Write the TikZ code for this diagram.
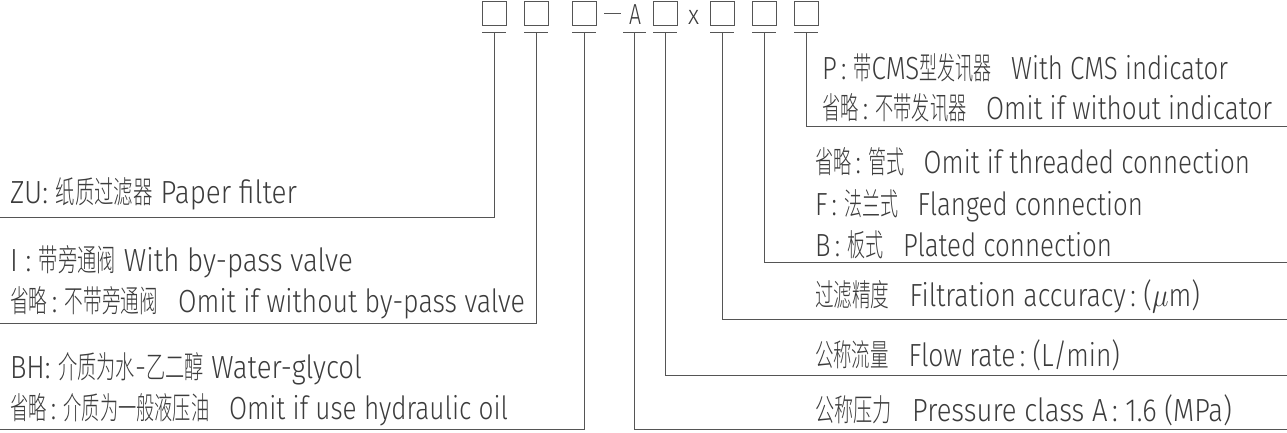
\documentclass[tikz,border=0pt]{standalone}
\usepackage{fontspec}
\usepackage{graphicx}
\setmainfont{Fira Sans}[UprightFont=* Light]
\newfontfamily\cjk{Noto Sans CJK SC}[UprightFont=* Light,FakeStretch=0.72]
\definecolor{ink}{RGB}{60,60,60}
\definecolor{ln}{RGB}{85,85,85}
\newcommand\zh[1]{{\cjk\fontsize{31}{32}\selectfont #1}}
\newcommand\fitw[2]{\resizebox{#1pt}{\height}{#2}}
\newcommand\gap{\hspace{0.75em}}
\newcommand\cl{\,:\ }
\begin{document}
\begin{tikzpicture}[x=1pt,y=-1pt,
  lbl/.style={anchor=base west,inner sep=0pt,outer sep=0pt,text=ink,font=\fontsize{32}{36}\selectfont},
  cell/.style={draw=ln,line width=1pt,minimum width=24pt,minimum height=24pt,inner sep=0pt,outer sep=0pt,anchor=north west},
  lead/.style={draw=ln,line width=1pt},
]
\useasboundingbox (0,0) rectangle (1287,432);

% top code boxes
\node[cell] (b1) at (482,1) {};
\node[cell] (b2) at (524,1) {};
\node[cell] (b3) at (572,1) {};
\node[cell] (b4) at (653,1) {};
\node[cell] (b5) at (710,1) {};
\node[cell] (b6) at (752,1) {};
\node[cell] (b7) at (794,1) {};
\coordinate (dl) at (604,13);
\coordinate (dr) at (621,13);
\draw[lead] (dl) -- (dr);
\node[lbl,font=\fontsize{29}{30}\selectfont] (A) at (629,24) {\fitw{12}{A}};
\node[lbl,font=\fontsize{27}{30}\selectfont] (X) at (688,24) {\fitw{11}{x}};

% underlines
\foreach \n/\l/\r in {1/482/506,2/524/548,3/572/596,a/623/646,4/653/677,5/710/734,6/752/776,7/794/818}{
  \coordinate (ul\n) at (\l,32);
  \coordinate (ur\n) at (\r,32);
  \draw[lead] (ul\n) -- (ur\n);
}

% leader start points
\coordinate (s1) at (494,32);
\coordinate (s2) at (536,32);
\coordinate (s3) at (584,32);
\coordinate (sa) at (634,32);
\coordinate (s4) at (665,32);
\coordinate (s5) at (722,32);
\coordinate (s6) at (764,32);
\coordinate (s7) at (806,32);
% leader ends
\coordinate (e1) at (0,217);
\coordinate (e2) at (0,323);
\coordinate (e3) at (0,429);
\coordinate (ea) at (1287,429);
\coordinate (e4) at (1287,375);
\coordinate (e5) at (1287,319);
\coordinate (e6) at (1287,262);
\coordinate (e7) at (1287,126);
\foreach \n in {1,2,3,a,4,5,6,7}{\draw[lead] (s\n) |- (e\n);}

% left texts
\node[lbl] (t1) at (10,203) {\fitw{287}{ZU:\ \zh{纸质过滤器} Paper filter}};
\node[lbl] (t2a) at (10,271) {\fitw{343}{I\ :\ \zh{带旁通阀} With by-pass valve}};
\node[lbl] (t2b) at (10,312) {\fitw{515}{\zh{省略}\cl\zh{不带旁通阀}\gap Omit if without by-pass valve}};
\node[lbl] (t3a) at (10,378) {\fitw{352}{BH:\ \zh{介质为水}-\zh{乙二醇} Water-glycol}};
\node[lbl] (t3b) at (10,419) {\fitw{498}{\zh{省略}\cl\zh{介质为一般液压油}\gap Omit if use hydraulic oil}};

% right texts
\node[lbl] (t7a) at (822,79) {\fitw{406}{P\cl\zh{带}CMS\zh{型发讯器}\gap With CMS indicator}};
\node[lbl] (t7b) at (822,119) {\fitw{450}{\zh{省略}\cl\zh{不带发讯器}\gap Omit if without indicator}};
\node[lbl] (t6a) at (815,173) {\fitw{435}{\zh{省略}\cl\zh{管式}\gap Omit if threaded connection}};
\node[lbl] (t6b) at (815,215) {\fitw{328}{F\cl\zh{法兰式}\gap Flanged connection}};
\node[lbl] (t6c) at (815,256) {\fitw{297}{B\cl\zh{板式}\gap Plated connection}};
\node[lbl] (t5) at (815,306) {\fitw{385}{\zh{过滤精度}\gap Filtration accuracy\cl(\scalebox{1.35}{$\mu$}m)}};
\node[lbl] (t4) at (815,366) {\fitw{305}{\zh{公称流量}\gap Flow rate\cl(L/min)}};
\node[lbl] (ta) at (815,421) {\fitw{417}{\zh{公称压力}\gap Pressure class A\cl 1.6 (MPa)}};
\end{tikzpicture}
\end{document}
